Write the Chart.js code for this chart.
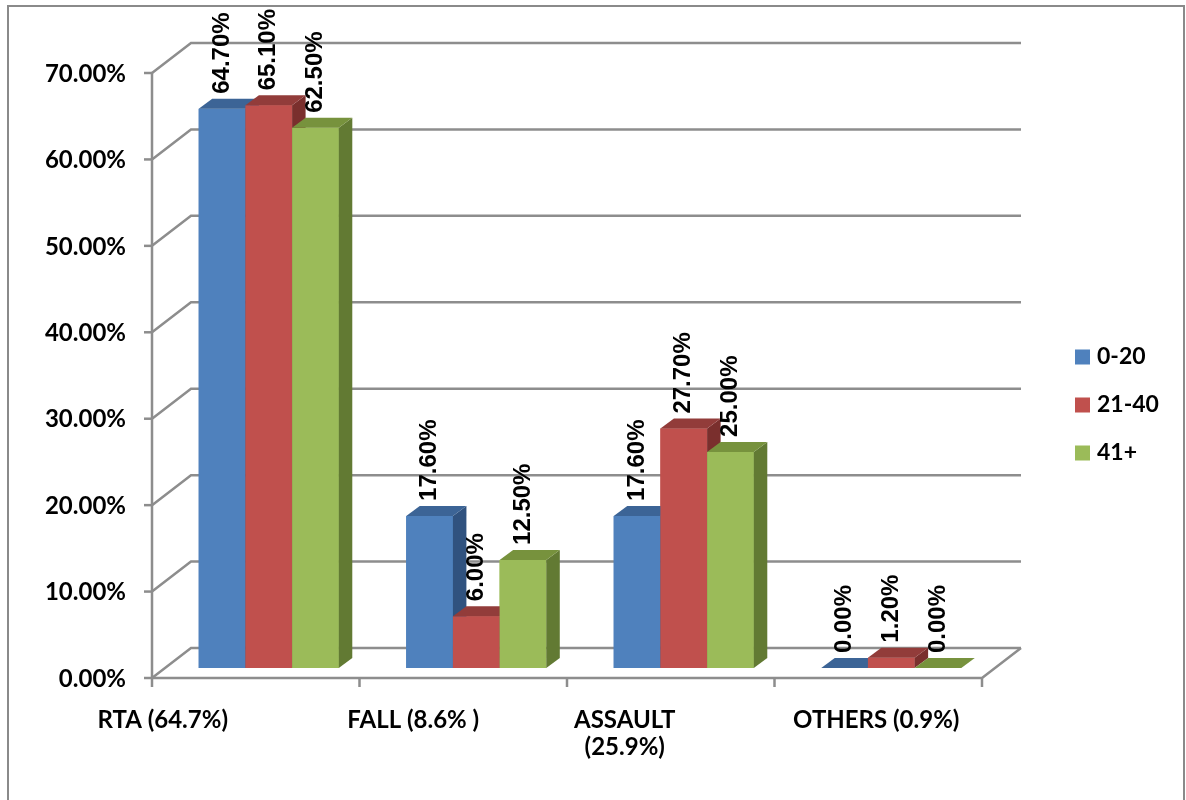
<!DOCTYPE html>
<html>
<head>
<meta charset="utf-8">
<script src="https://cdn.jsdelivr.net/npm/chart.js@4/dist/chart.umd.min.js"></script>
<style>
  html, body { margin: 0; padding: 0; background: #ffffff; }
  #wrap { width: 1186px; height: 800px; position: relative; }
</style>
</head>
<body>
<div id="wrap"><canvas id="c"></canvas></div>
<script>
// Injury mechanism by age group
const categories = ['RTA (64.7%)', 'FALL (8.6% )', ['ASSAULT', '(25.9%)'], 'OTHERS (0.9%)'];
const seriesNames = ['0-20', '21-40', '41+'];
const age0to20 = [64.7, 17.6, 17.6, 0.0];
const age21to40 = [65.1, 6.0, 27.7, 1.2];
const age41plus = [62.5, 12.5, 25.0, 0.0];
const yTicks = [0, 10, 20, 30, 40, 50, 60, 70];

// face colours: front, top, side
const palette = [
  { front: '#4f81bd', top: '#3c6496', side: '#30527f' },
  { front: '#c0504d', top: '#923c3a', side: '#7a2f2d' },
  { front: '#9bbb59', top: '#77923d', side: '#627a33' }
];

const GRID = '#8d8d8d';
const WALL_FRONT = { dx: -13, dy: 10 };   // front plane relative to bar plane
const WALL_BACK = { dx: 26, dy: -20 };    // back plane relative to bar plane
const BAR_DEPTH = { dx: 13.5, dy: -10 };  // depth of each bar box
const labelShift = [-93, -50, -46, -2];   // horizontal nudge of category captions
const AXIS_FONT = 'bold 24px Lato, "Liberation Sans", sans-serif';
const LEGEND_FONT = 'bold 23px Lato, "Liberation Sans", sans-serif';
const VALUE_FONT = 'bold 24px "Liberation Sans", Arial, sans-serif';

const pct = v => v.toFixed(2) + '%';

function line(ctx, pts) {
  ctx.beginPath();
  ctx.moveTo(pts[0][0], pts[0][1]);
  for (let i = 1; i < pts.length; i++) ctx.lineTo(pts[i][0], pts[i][1]);
  ctx.stroke();
}

function poly(ctx, pts, fill) {
  ctx.beginPath();
  ctx.moveTo(pts[0][0], pts[0][1]);
  for (let i = 1; i < pts.length; i++) ctx.lineTo(pts[i][0], pts[i][1]);
  ctx.closePath();
  ctx.fillStyle = fill;
  ctx.fill();
}

// Walls, floor, gridlines and axes of the 3D box
const wallsPlugin = {
  id: 'walls',
  beforeDatasetsDraw(chart) {
    const { ctx, chartArea: a, scales: { y } } = chart;
    const fl = a.left + WALL_FRONT.dx, fr = a.right + WALL_FRONT.dx;
    const bl = a.left + WALL_BACK.dx, br = a.right + WALL_BACK.dx;
    const y0 = y.getPixelForValue(0);
    ctx.save();
    ctx.strokeStyle = GRID;
    ctx.lineWidth = 2.5;
    yTicks.forEach(v => {
      const yy = y.getPixelForValue(v);
      line(ctx, [[fl, yy + WALL_FRONT.dy], [bl, yy + WALL_BACK.dy], [br, yy + WALL_BACK.dy]]);
      line(ctx, [[fl - 8, yy + WALL_FRONT.dy], [fl, yy + WALL_FRONT.dy]]);
    });
    // floor front edge and right edge
    line(ctx, [[fl, y0 + WALL_FRONT.dy], [fr, y0 + WALL_FRONT.dy], [br, y0 + WALL_BACK.dy]]);
    // value axis
    line(ctx, [[fl, y.getPixelForValue(70) + WALL_FRONT.dy], [fl, y0 + WALL_FRONT.dy]]);
    // category tick marks
    const step = (a.right - a.left) / categories.length;
    for (let i = 0; i <= categories.length; i++) {
      const px = a.left + i * step + WALL_FRONT.dx;
      line(ctx, [[px, y0 + WALL_FRONT.dy], [px, y0 + WALL_FRONT.dy + 9]]);
    }
    ctx.restore();
  }
};

// Box faces of every bar, painted cluster by cluster from left to right
const boxPlugin = {
  id: 'boxes',
  afterDatasetsDraw(chart) {
    const { ctx } = chart;
    const n = chart.data.labels.length;
    ctx.save();
    for (let i = 0; i < n; i++) {
      chart.data.datasets.forEach((ds, di) => {
        const bar = chart.getDatasetMeta(di).data[i];
        const col = palette[di];
        const p = bar.getProps(['x', 'y', 'base', 'width'], true);
        const l = p.x - p.width / 2, r = p.x + p.width / 2;
        const t = p.y, b = p.base;
        const dx = BAR_DEPTH.dx, dy = BAR_DEPTH.dy;
        poly(ctx, [[l, t], [r, t], [r, b], [l, b]], col.front);
        poly(ctx, [[r, t], [r + dx, t + dy], [r + dx, b + dy], [r, b]], col.side);
        poly(ctx, [[l, t], [l + dx, t + dy], [r + dx, t + dy], [r, t]], col.top);
      });
    }
    ctx.restore();
  }
};

// Text: value labels, axis labels and legend
const textPlugin = {
  id: 'texts',
  afterDraw(chart) {
    const { ctx, chartArea: a, scales: { x, y } } = chart;
    const y0 = y.getPixelForValue(0);
    const fl = a.left + WALL_FRONT.dx;
    ctx.save();
    ctx.fillStyle = '#000000';

    // value labels, rotated
    ctx.font = VALUE_FONT;
    ctx.textAlign = 'left';
    ctx.textBaseline = 'middle';
    chart.data.datasets.forEach((ds, di) => {
      const meta = chart.getDatasetMeta(di);
      meta.data.forEach((bar, i) => {
        const p = bar.getProps(['x', 'y'], true);
        ctx.save();
        ctx.translate(p.x, p.y + BAR_DEPTH.dy - 5);
        ctx.rotate(-Math.PI / 2);
        ctx.fillText(pct(ds.data[i]), 0, 0);
        ctx.restore();
      });
    });

    // value axis labels
    ctx.font = AXIS_FONT;
    ctx.textAlign = 'right';
    ctx.textBaseline = 'middle';
    yTicks.forEach(v => {
      ctx.fillText(pct(v), fl - 26, y.getPixelForValue(v) + WALL_FRONT.dy + 1);
    });

    // category labels
    ctx.textAlign = 'center';
    ctx.textBaseline = 'alphabetic';
    categories.forEach((c, i) => {
      const cx = x.getPixelForValue(i) + WALL_FRONT.dx + labelShift[i];
      const lines = Array.isArray(c) ? c : [c];
      lines.forEach((s, k) => ctx.fillText(s, cx, y0 + 60 + k * 27));
    });

    // legend
    ctx.font = LEGEND_FONT;
    ctx.textAlign = 'left';
    ctx.textBaseline = 'middle';
    chart.data.datasets.forEach((ds, i) => {
      const cy = 357 + i * 48;
      ctx.fillStyle = palette[i].front;
      ctx.fillRect(1075, cy - 7.5, 15, 15);
      ctx.fillStyle = '#000000';
      ctx.fillText(ds.label, 1097, cy);
    });

    // chart frame
    ctx.strokeStyle = '#8a8a8a';
    ctx.lineWidth = 2;
    ctx.strokeRect(8, 6, 1176, 800);
    ctx.restore();
  }
};

const seriesData = [age0to20, age21to40, age41plus];

new Chart(document.getElementById('c'), {
  type: 'bar',
  data: {
    labels: categories,
    datasets: seriesData.map((d, i) => ({
      label: seriesNames[i],
      data: d,
      backgroundColor: palette[i].front,
      borderWidth: 0,
      categoryPercentage: 0.675,
      barPercentage: 1.0
    }))
  },
  options: {
    responsive: true,
    maintainAspectRatio: false,
    animation: false,
    layout: { padding: { left: 165, right: 191, top: 63, bottom: 132 } },
    scales: {
      x: { display: false, grid: { display: false } },
      y: { display: false, min: 0, max: 70, grid: { display: false } }
    },
    plugins: {
      legend: { display: false },
      tooltip: { enabled: false }
    }
  },
  plugins: [wallsPlugin, boxPlugin, textPlugin]
});
</script>
</body>
</html>
